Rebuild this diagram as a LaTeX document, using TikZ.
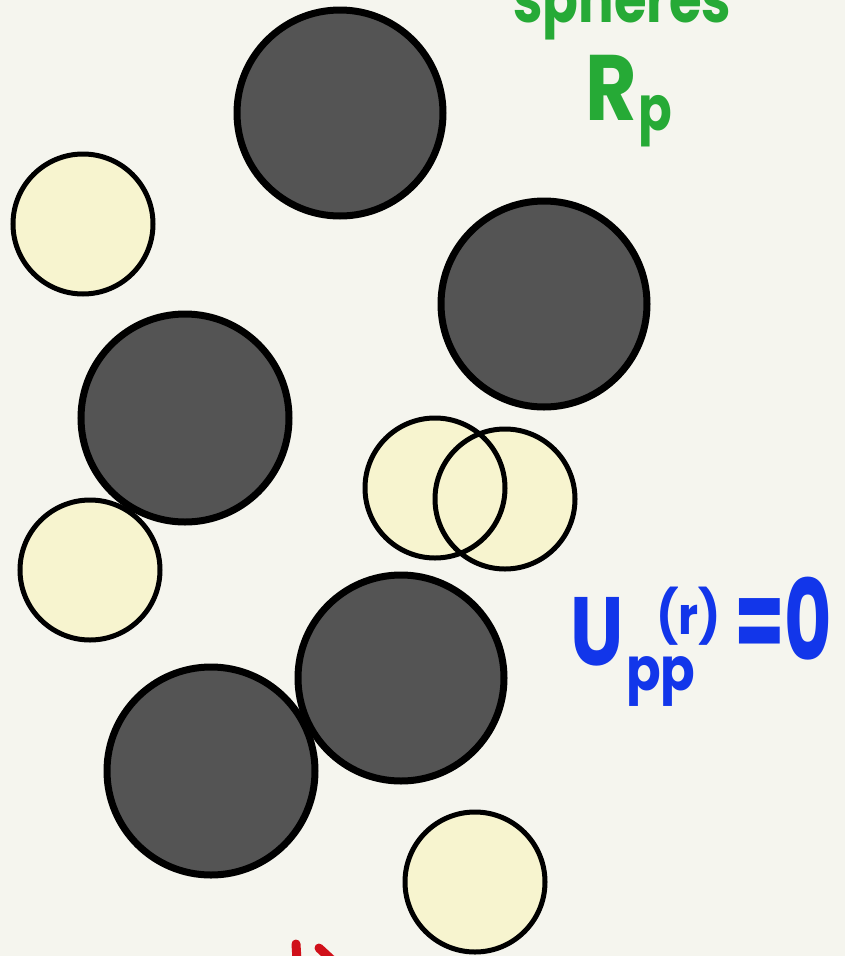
\documentclass[tikz,border=0pt]{standalone}
\usepackage{fontspec}
\setmainfont{Poppins}
\definecolor{paper}{HTML}{F5F5EE}
\definecolor{ball}{HTML}{545454}
\definecolor{pale}{HTML}{F7F4CF}
\definecolor{mgreen}{HTML}{26AA36}
\definecolor{mblue}{HTML}{1236EA}
\definecolor{mred}{HTML}{D0101A}
\tikzset{
  darkfill/.style={fill=ball},
  darkline/.style={draw=black, line width=7pt},
  palefill/.style={fill=pale},
  paleline/.style={draw=black, line width=5pt},
  hand/.style={inner sep=0pt, font=\bfseries},
}
\begin{document}
\begin{tikzpicture}[x=1pt,y=-1pt]
\useasboundingbox (0,0) rectangle (845,956);
\clip (0,0) rectangle (845,956);
\fill[paper] (0,0) rectangle (845,956);
% fills
\path[darkfill] (340,113) circle[radius=103];
\path[darkfill] (544,304) circle[radius=103];
\path[darkfill] (185,418) circle[radius=104];
\path[darkfill] (401,678) circle[radius=103];
\path[darkfill] (211,771) circle[radius=104];
\path[palefill] (83,224) circle[radius=70];
\path[palefill] (90,570) circle[radius=70];
\path[palefill] (435,488) circle[radius=70];
\path[palefill] (505,499) circle[radius=70];
\path[palefill] (475,882) circle[radius=70];
% outlines
\path[darkline] (340,113) circle[radius=103];
\path[darkline] (544,304) circle[radius=103];
\path[darkline] (185,418) circle[radius=104];
\path[darkline] (401,678) circle[radius=103];
\path[darkline] (211,771) circle[radius=104];
\path[paleline] (83,224) circle[radius=70];
\path[paleline] (90,570) circle[radius=70];
\path[paleline] (435,488) circle[radius=70];
\path[paleline] (505,499) circle[radius=70];
\path[paleline] (475,882) circle[radius=70];
% green labels
\node[hand, text=mgreen, anchor=base west, xscale=0.8] (sph) at (513,22) {\fontsize{66}{66}\selectfont spheres};
\node[hand, text=mgreen, anchor=base west, xscale=0.85] (R) at (585,120) {\fontsize{93}{93}\selectfont R};
\node[hand, text=mgreen, anchor=base west, xscale=0.8] (Rp) at (638,130) {\fontsize{62}{62}\selectfont p};
% blue labels
\node[hand, text=mblue, anchor=base west, xscale=0.78] (U) at (570,665) {\fontsize{97}{97}\selectfont U};
\node[hand, text=mblue, anchor=base west, xscale=0.85] (pp) at (626,690) {\fontsize{60}{60}\selectfont pp};
\node[hand, text=mblue, anchor=base west, xscale=0.9] (rr) at (656,634) {\fontsize{52}{52}\selectfont (r)};
\node[hand, text=mblue, anchor=base west, xscale=0.65] (eq) at (734,660) {\fontsize{112}{112}\selectfont =0};
% red partial marks
\draw[mred, line width=9pt, line cap=round] (296,944) -- (297,960);
\draw[mred, line width=9pt, line cap=round] (319,948) -- (332,960);
\end{tikzpicture}
\end{document}
